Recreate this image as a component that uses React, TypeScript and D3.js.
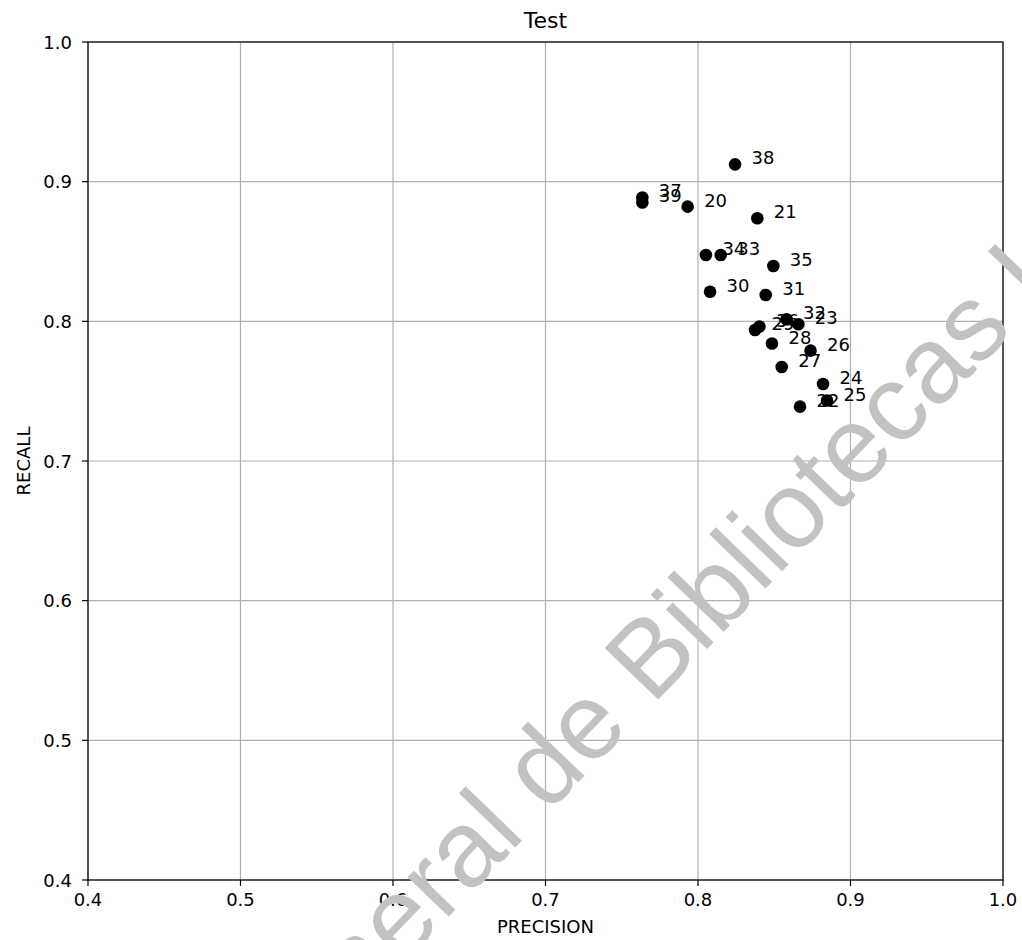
import React from "react";
import * as d3 from "d3";

// Model runs (epochs 20–39) evaluated on the test set
const labels = [20, 21, 22, 23, 24, 25, 26, 27, 28, 29, 30, 31, 32, 33, 34, 35, 36, 37, 38, 39];
const precision = [0.7932, 0.8389, 0.8669, 0.8658, 0.882, 0.8846, 0.8738, 0.8549, 0.8485, 0.8374, 0.8079, 0.8444, 0.8581, 0.8149, 0.8052, 0.8494, 0.8403, 0.7635, 0.8243, 0.7635];
const recall = [0.8821, 0.8738, 0.7389, 0.7979, 0.7551, 0.7433, 0.779, 0.7673, 0.7841, 0.7938, 0.8212, 0.8189, 0.8015, 0.8475, 0.8475, 0.8396, 0.7963, 0.8887, 0.9124, 0.8851];
const xTicks = [0.4, 0.5, 0.6, 0.7, 0.8, 0.9, 1.0];
const yTicks = [0.4, 0.5, 0.6, 0.7, 0.8, 0.9, 1.0];

const W = 1022;
const H = 940;
const margin = { left: 88, right: 19, top: 42, bottom: 60 };
const FONT = "DejaVu Sans, sans-serif";

export default function App() {
  const x = d3.scaleLinear().domain([0.4, 1.0]).range([margin.left, W - margin.right]);
  const y = d3.scaleLinear().domain([0.4, 1.0]).range([H - margin.bottom, margin.top]);
  const [x0, x1] = x.range();
  const [y0, y1] = y.range();
  const fmt = d3.format(".1f");

  // watermark anchor: start of "Bibliotecas"
  const wmSize = 108;
  const wmX = 652;
  const wmY = 706;
  const wmAngle = -46;

  return (
    <svg
      width={W}
      height={H}
      style={{ position: "absolute", left: 0, top: 0, background: "#fff" }}
      fontFamily={FONT}
    >
      <rect x={0} y={0} width={W} height={H} fill="#fff" />
      {/* grid */}
      {xTicks.map((t) => (
        <line key={"gx" + t} x1={x(t)} x2={x(t)} y1={y1} y2={y0} stroke="#b0b0b0" strokeWidth={1.2} />
      ))}
      {yTicks.map((t) => (
        <line key={"gy" + t} y1={y(t)} y2={y(t)} x1={x0} x2={x1} stroke="#b0b0b0" strokeWidth={1.2} />
      ))}
      {/* points */}
      {labels.map((l, i) => (
        <circle key={"p" + l} cx={x(precision[i])} cy={y(recall[i])} r={6.3} fill="#000" />
      ))}
      {labels.map((l, i) => (
        <text
          key={"t" + l}
          x={x(precision[i]) + 16.5}
          y={y(recall[i])}
          fontSize={18}
          fill="#000"
        >
          {l}
        </text>
      ))}
      {/* frame */}
      <rect x={x0} y={y1} width={x1 - x0} height={y0 - y1} fill="none" stroke="#000" strokeWidth={1.2} />
      {/* x ticks */}
      {xTicks.map((t) => (
        <g key={"xt" + t}>
          <line x1={x(t)} x2={x(t)} y1={y0} y2={y0 + 6} stroke="#000" strokeWidth={1.2} />
          <text x={x(t)} y={y0 + 26} textAnchor="middle" fontSize={18} fill="#000">
            {fmt(t)}
          </text>
        </g>
      ))}
      {/* y ticks */}
      {yTicks.map((t) => (
        <g key={"yt" + t}>
          <line x1={x0 - 6} x2={x0} y1={y(t)} y2={y(t)} stroke="#000" strokeWidth={1.2} />
          <text x={x0 - 16} y={y(t) + 6.5} textAnchor="end" fontSize={18} fill="#000">
            {fmt(t)}
          </text>
        </g>
      ))}
      <text x={(x0 + x1) / 2} y={933} textAnchor="middle" fontSize={18} fill="#000">
        PRECISION
      </text>
      <text
        transform={`translate(30,${(y0 + y1) / 2}) rotate(-90)`}
        textAnchor="middle"
        fontSize={18}
        fill="#000"
      >
        RECALL
      </text>
      <text x={(x0 + x1) / 2} y={28} textAnchor="middle" fontSize={22} fill="#000">
        Test
      </text>
      {/* library watermark */}
      <g
        transform={`translate(${wmX},${wmY}) rotate(${wmAngle})`}
        fontFamily="Liberation Sans, Arial, sans-serif"
        fontSize={wmSize}
        fill="#c2c2c2"
      >
        <text x={-0.278 * wmSize} y={0} textAnchor="end">
          Dirección General de
        </text>
        <text x={0} y={0} textAnchor="start">
          Bibliotecas UAQ
        </text>
      </g>
    </svg>
  );
}
